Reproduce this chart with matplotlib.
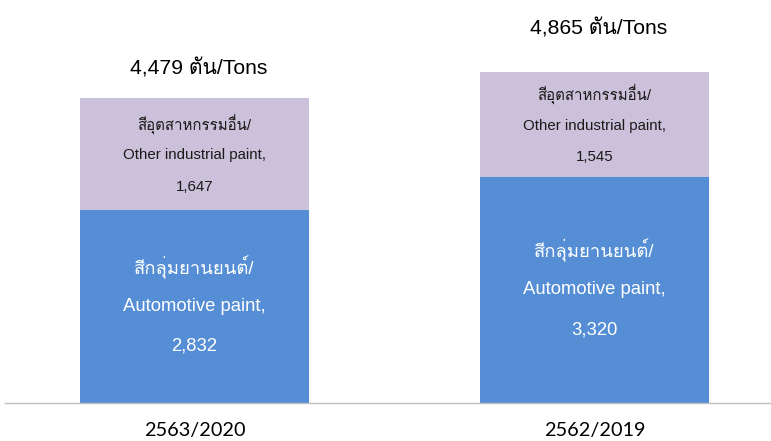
import matplotlib
matplotlib.use("Agg")
import matplotlib.pyplot as plt
from matplotlib import font_manager
from matplotlib.ft2font import FT2Font

# ---- data ----
years = ["2563/2020", "2562/2019"]
automotive = [2832, 3320]
other_industrial = [1647, 1545]
totals = [4479, 4865]
auto_label_th = "สีกลุ่มยานยนต์/"
auto_label_en = "Automotive paint,"
other_label_th = "สีอุตสาหกรรมอื่น/"
other_label_en = "Other industrial paint,"
total_unit = "ตัน/Tons"

# ---- find a font with Thai glyphs ----
thai_family = None
for fe in font_manager.fontManager.ttflist:
    try:
        f = FT2Font(fe.fname)
        if f.get_char_index(ord("ส")):
            thai_family = fe.name
            break
    except Exception:
        pass

fam = ["Liberation Sans"] + ([thai_family] if thai_family else []) + ["DejaVu Sans"]
plt.rcParams["font.family"] = fam

BLUE = "#558ED5"
LAV = "#CCC1DA"

fig = plt.figure(figsize=(7.71, 4.41), dpi=100)
ax = fig.add_axes([5 / 771, 38 / 441, 766 / 771, 403 / 441])

x = [0, 1]
width = 0.5725
ax.bar(x, automotive, width=width, color=BLUE, zorder=2)
ax.bar(x, other_industrial, width=width, bottom=automotive, color=LAV, zorder=2)

ax.set_xlim(-0.474, 1.441)
ax.set_ylim(0, 5918)

for s in ["top", "right", "left"]:
    ax.spines[s].set_visible(False)
ax.spines["bottom"].set_color("#BFBFBF")
ax.spines["bottom"].set_linewidth(1.0)
ax.set_yticks([])
ax.set_xticks(x)
ax.set_xticklabels(years, fontfamily=["Lato", "DejaVu Sans"], fontsize=14.3)
ax.tick_params(axis="x", length=0, pad=14)

total_offsets = [21, 31]  # points above bar top
for i in range(2):
    a = automotive[i]
    o = other_industrial[i]
    # automotive labels
    cy = a / 2
    ax.annotate(auto_label_th, (x[i], cy), xytext=(0, 28.5), textcoords="offset points",
                ha="center", va="center", color="white", fontsize=13.3)
    ax.annotate(auto_label_en, (x[i], cy), xytext=(0, 0), textcoords="offset points",
                ha="center", va="center", color="white", fontsize=13.3)
    ax.annotate(f"{a:,}", (x[i], cy), xytext=(0, -28.5), textcoords="offset points",
                ha="center", va="center", color="white", fontsize=13.3)
    # other industrial labels
    cy2 = a + o / 2
    ax.annotate(other_label_th, (x[i], cy2), xytext=(0, 22), textcoords="offset points",
                ha="center", va="center", color="#1a1a1a", fontsize=10.8)
    ax.annotate(other_label_en, (x[i], cy2), xytext=(0, -1), textcoords="offset points",
                ha="center", va="center", color="#1a1a1a", fontsize=10.8)
    ax.annotate(f"{o:,}", (x[i], cy2), xytext=(0, -23.5), textcoords="offset points",
                ha="center", va="center", color="#1a1a1a", fontsize=10.8)
    # totals
    ax.annotate(f"{totals[i]:,} {total_unit}", (x[i], totals[i]),
                xytext=(3, total_offsets[i]), textcoords="offset points",
                ha="center", va="center", color="black", fontsize=15.2)

fig.savefig("out.png", dpi=100)
